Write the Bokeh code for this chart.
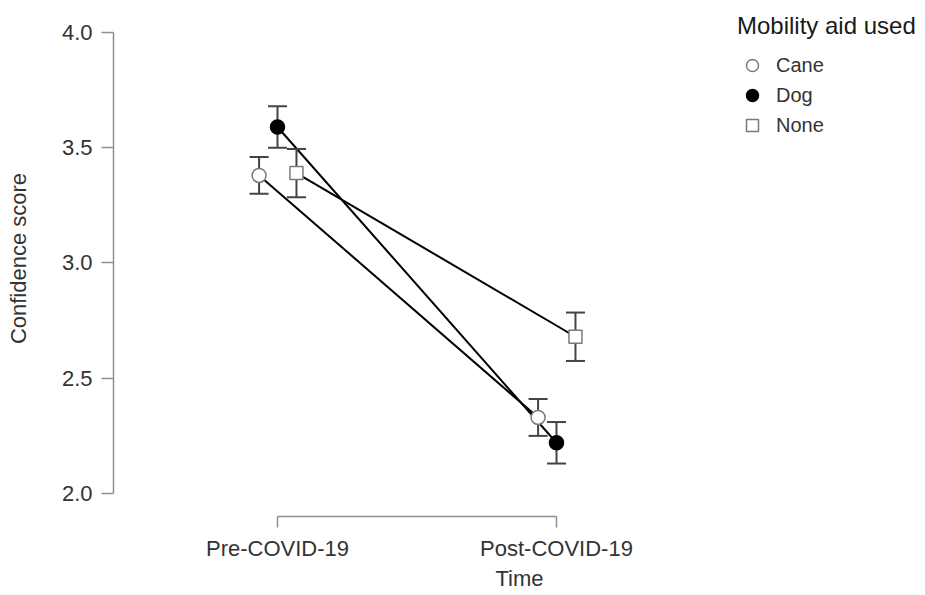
from bokeh.plotting import figure
from bokeh.models import FixedTicker, Range1d, Legend, LegendItem, ColumnDataSource
from bokeh.transform import dodge
from bokeh.embed import file_html
from bokeh.resources import INLINE

# ---- data ----
times = ["Pre-COVID-19", "Post-COVID-19"]
time_pos = [0, 1]
groups = ["Cane", "Dog", "None"]
cane_mean = [3.38, 2.33]
cane_se = [0.08, 0.08]
dog_mean = [3.59, 2.22]
dog_se = [0.09, 0.09]
none_mean = [3.39, 2.68]
none_se = [0.105, 0.105]
y_ticks = [2.0, 2.5, 3.0, 3.5, 4.0]
y_tick_labels = ["2.0", "2.5", "3.0", "3.5", "4.0"]

FONT = "Liberation Sans"

p = figure(width=925, height=595, output_backend="svg", toolbar_location=None,
           x_range=Range1d(-0.5878, 2.3226), y_range=Range1d(1.9002, 4.1388),
           min_border_left=113, min_border_right=0, min_border_top=0,
           min_border_bottom=79)
p.outline_line_color = None
p.grid.visible = False
p.background_fill_color = "white"

means = {"Cane": cane_mean, "Dog": dog_mean, "None": none_mean}
ses = {"Cane": cane_se, "Dog": dog_se, "None": none_se}
offsets = {"Cane": -0.066, "Dog": 0.0, "None": 0.068}

sources = {}
for g in groups:
    lo = [m - s for m, s in zip(means[g], ses[g])]
    hi = [m + s for m, s in zip(means[g], ses[g])]
    sources[g] = ColumnDataSource(dict(t=time_pos, mean=means[g], lo=lo, hi=hi))

# lines
for g in groups:
    p.line(x=dodge("t", offsets[g]), y="mean", source=sources[g],
           line_color="black", line_width=2)

# error bars
EB = "#444444"
for g in groups:
    xg = dodge("t", offsets[g])
    p.segment(x0=xg, y0="lo", x1=xg, y1="hi", source=sources[g],
              line_color=EB, line_width=2)
    p.scatter(x=xg, y="lo", source=sources[g], marker="dash", size=19,
              line_color=EB, line_width=2)
    p.scatter(x=xg, y="hi", source=sources[g], marker="dash", size=19,
              line_color=EB, line_width=2)

# markers
styles = {
    "Cane": dict(marker="circle", size=14, fill_color="white", line_color="#7a7a7a"),
    "Dog": dict(marker="circle", size=14, fill_color="black", line_color="black"),
    "None": dict(marker="square", size=13, fill_color="white", line_color="#7a7a7a"),
}
marker_r = {}
for g in groups:
    marker_r[g] = p.scatter(x=dodge("t", offsets[g]), y="mean", source=sources[g],
                            line_width=1.5, **styles[g])

# axes
for ax in (p.xaxis[0], p.yaxis[0]):
    ax.axis_line_color = "#8f8f8f"
    ax.axis_line_width = 1.5
    ax.major_tick_line_color = "#8f8f8f"
    ax.major_tick_line_width = 1.5
    ax.major_tick_in = 0
    ax.minor_tick_line_color = None
    ax.major_label_text_font = FONT
    ax.major_label_text_font_size = "22px"
    ax.major_label_text_color = "#333333"
    ax.axis_label_text_font = FONT
    ax.axis_label_text_font_size = "22px"
    ax.axis_label_text_font_style = "normal"
    ax.axis_label_text_color = "#333333"

p.xaxis.ticker = FixedTicker(ticks=time_pos)
p.xaxis.major_label_overrides = {t: lab for t, lab in zip(time_pos, times)}
p.xaxis.bounds = (0, 1)
p.xaxis.major_tick_out = 11
p.xaxis.major_label_standoff = 8
p.xaxis.axis_label = "Time"
p.xaxis.axis_label_standoff = 2
p.xaxis.axis_label_text_baseline = "middle"

p.yaxis.ticker = FixedTicker(ticks=y_ticks)
p.yaxis.major_label_overrides = {t: lab for t, lab in zip(y_ticks, y_tick_labels)}
p.yaxis.bounds = (2, 4)
p.yaxis.major_tick_out = 12
p.yaxis.major_label_standoff = 9
p.yaxis.axis_label = "Confidence score"
p.yaxis.axis_label_standoff = 28

legend = Legend(items=[LegendItem(label=g, renderers=[marker_r[g]]) for g in groups],
                location=(624, 376), title="Mobility aid used",
                title_text_font=FONT, title_text_font_size="24px",
                title_text_font_style="normal", title_text_color="#1a1a1a",
                title_standoff=10,
                label_text_font=FONT, label_text_font_size="20px",
                label_text_color="#333333",
                glyph_width=30, glyph_height=30, label_height=30,
                spacing=0, label_standoff=9, padding=0, margin=0,
                border_line_color=None, background_fill_alpha=0)
p.add_layout(legend, "center")

open("out.html", "w").write(file_html(p, INLINE))
